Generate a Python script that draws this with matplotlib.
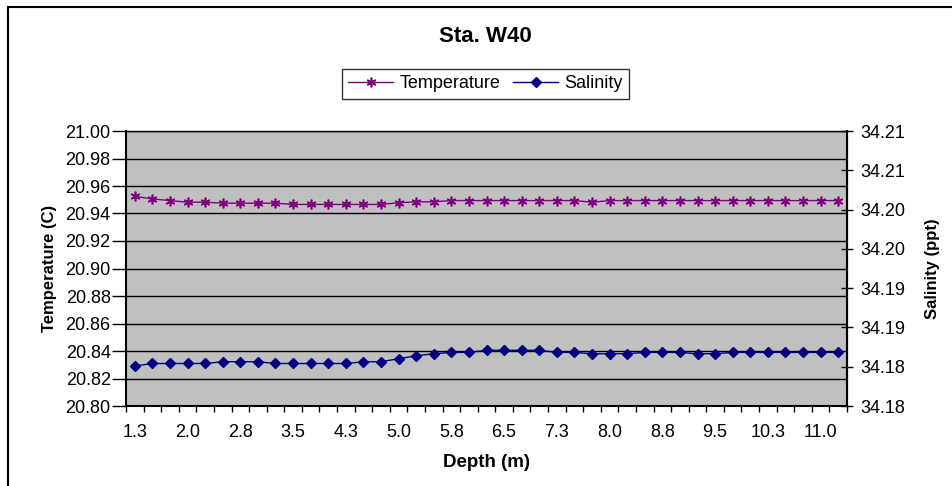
import numpy as np
import matplotlib
matplotlib.use('Agg')
import matplotlib.pyplot as plt
from matplotlib.patches import Rectangle

plt.rcParams['font.family'] = ['Liberation Sans', 'DejaVu Sans']

# depth categories, 1.25 m .. 11.25 m every 0.25 m
depth = [1.25, 1.5, 1.75, 2.0, 2.25, 2.5, 2.75, 3.0, 3.25, 3.5,
         3.75, 4.0, 4.25, 4.5, 4.75, 5.0, 5.25, 5.5, 5.75, 6.0,
         6.25, 6.5, 6.75, 7.0, 7.25, 7.5, 7.75, 8.0, 8.25, 8.5,
         8.75, 9.0, 9.25, 9.5, 9.75, 10.0, 10.25, 10.5, 10.75, 11.0,
         11.25]

temperature = [20.9525, 20.9506, 20.9494, 20.9482, 20.9482, 20.9475, 20.9475, 20.9475, 20.9475, 20.9466,
               20.9466, 20.9466, 20.9466, 20.9466, 20.9466, 20.9478, 20.9485, 20.9485, 20.9494, 20.9494,
               20.9494, 20.9494, 20.9494, 20.9494, 20.9494, 20.9494, 20.9482, 20.9494, 20.9494, 20.9494,
               20.9494, 20.9494, 20.9494, 20.9494, 20.9494, 20.9494, 20.9494, 20.9494, 20.9494, 20.9494,
               20.9494]

salinity = [34.18009, 34.18041, 34.18041, 34.18041, 34.18041, 34.18063, 34.18063, 34.18063, 34.18041, 34.18041,
            34.18041, 34.18041, 34.18041, 34.18063, 34.18063, 34.18102, 34.18139, 34.18165, 34.18182, 34.18182,
            34.18209, 34.18209, 34.18209, 34.18209, 34.18182, 34.18182, 34.18165, 34.18165, 34.18165, 34.18182,
            34.18182, 34.18182, 34.18165, 34.18165, 34.18182, 34.18182, 34.18182, 34.18182, 34.18182, 34.18182,
            34.18182]

x_labels = ['1.3', '2.0', '2.8', '3.5', '4.3', '5.0', '5.8', '6.5', '7.3',
            '8.0', '8.8', '9.5', '10.3', '11.0']
temp_ticks = [20.80, 20.82, 20.84, 20.86, 20.88, 20.90, 20.92, 20.94, 20.96, 20.98, 21.00]
sal_ticks = [34.175, 34.18, 34.185, 34.19, 34.195, 34.20, 34.205, 34.21]
sal_labels = ['34.18', '34.18', '34.19', '34.19', '34.20', '34.20', '34.21', '34.21']

TEMP_C = '#800080'
SAL_C = '#000080'
TICK_FS = 13

fig = plt.figure(figsize=(9.53, 4.86), dpi=100)
ax = fig.add_axes([126 / 953, 80 / 486, 721 / 953, 275 / 486])
ax2 = ax.twinx()

ind = np.arange(len(depth))
l1, = ax.plot(ind, temperature, color=TEMP_C, lw=1.0, marker=(6, 2, 0),
              ms=7, mew=1.2, label='Temperature')
l2, = ax2.plot(ind, salinity, color=SAL_C, lw=1.0, marker='D',
               ms=5.5, label='Salinity')

ax.set_facecolor('#C0C0C0')
ax.set_xlim(-0.5, len(depth) - 0.5)
ax.set_ylim(20.80, 21.00)
ax2.set_ylim(34.175, 34.21)
ax.set_yticks(temp_ticks)
ax.set_yticklabels(['%.2f' % t for t in temp_ticks])
ax.yaxis.grid(True, color='black', lw=1.0)
ax.set_axisbelow(True)
ax2.set_yticks(sal_ticks)
ax2.set_yticklabels(sal_labels)

ax.set_xticks(ind[::3])
ax.set_xticklabels(x_labels)
ax.set_xticks(np.arange(-0.5, len(depth)), minor=True)
ax.tick_params(axis='x', which='major', length=0, pad=13, labelsize=TICK_FS)
ax.tick_params(axis='x', which='minor', length=4, width=1, direction='out')
ax.tick_params(axis='y', length=10, width=1, direction='out', labelsize=TICK_FS, pad=1)
ax2.tick_params(axis='y', length=9, width=1, direction='inout', labelsize=TICK_FS, pad=5)

for sp in ['left', 'bottom']:
    ax.spines[sp].set_linewidth(1.5)
ax.spines['top'].set_linewidth(1.0)
ax2.spines['right'].set_linewidth(1.5)
for sp in ['left', 'bottom', 'top']:
    ax2.spines[sp].set_visible(False)

ax.set_xlabel('Depth (m)', fontsize=13.5, fontweight='bold', labelpad=9)
ax.set_ylabel('Temperature (C)', fontsize=12, fontweight='bold', labelpad=6)
ax2.set_ylabel('Salinity (ppt)', fontsize=12, fontweight='bold', labelpad=14)

fig.text(485 / 953, 1 - 37 / 486, 'Sta. W40', ha='center', va='center',
         fontsize=16, fontweight='bold')

leg = fig.legend([l1, l2], ['Temperature', 'Salinity'], loc='center',
                 bbox_to_anchor=(485.5 / 953, 1 - 84 / 486), ncol=2,
                 fontsize=13, frameon=True, fancybox=False, handlelength=2.5,
                 handletextpad=0.35, columnspacing=0.7, borderpad=0.35)
leg.get_frame().set_edgecolor('black')
leg.get_frame().set_linewidth(1.0)

# outer chart frame (runs off the right and bottom edges)
fig.patches.append(Rectangle((8 / 953, -0.1), 1.2, 1.1 - 7 / 486,
                             transform=fig.transFigure, fill=False,
                             edgecolor='black', lw=1.5))

plt.savefig('out.png', dpi=100)
